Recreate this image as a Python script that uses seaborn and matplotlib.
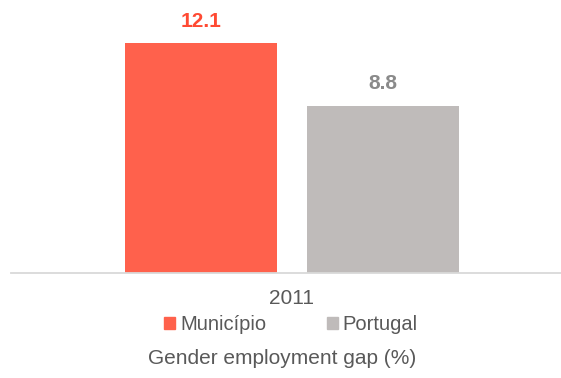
import seaborn as sns
import matplotlib.pyplot as plt
import pandas as pd

years = ['2011']
series = ['Município', 'Portugal']
values = [12.1, 8.8]
colors = ['#FF614C', '#BFBBBA']
label_colors = ['#FF4A33', '#8A8A8A']

df = pd.DataFrame({'year': years * len(series), 'series': series, 'value': values})

sns.set_style('white')
plt.rcParams['font.family'] = ['Liberation Sans', 'DejaVu Sans']

fig = plt.figure(figsize=(5.61, 3.78), dpi=100)
ax = fig.add_axes([11 / 561, 105 / 378, 550 / 561, 263 / 378])

sns.barplot(data=df, x='year', y='value', hue='series', palette=colors, saturation=1,
            width=0.8, gap=0.165, linewidth=0, ax=ax, legend=False)

for cont, c in zip(ax.containers, label_colors):
    ax.bar_label(cont, fmt='%.1f', padding=9, color=c, fontsize=15, fontweight='bold')

ax.set_ylim(0, 263 / 19.0)
ax.set_xlim(-0.6176, 0.591)
ax.set_yticks([])
ax.set_xticks([])
ax.set_xlabel('')
ax.set_ylabel('')
for s in ['top', 'right', 'left']:
    ax.spines[s].set_visible(False)
ax.spines['bottom'].set_color('#D9D9D9')
ax.spines['bottom'].set_linewidth(1.3)

txt = '#595959'
fig.text(292 / 561, 1 - 298 / 378, years[0], ha='center', va='center', fontsize=15, color=txt)

handles = [plt.Rectangle((0, 0), 1, 1, color=c) for c in colors]
fig.legend(handles, series, loc='center', bbox_to_anchor=(291 / 561, 1 - 325 / 378),
           ncol=2, frameon=False, fontsize=14.5, handlelength=0.55, handleheight=0.55,
           handletextpad=0.25, columnspacing=3.0, labelcolor=txt)

fig.text(282 / 561, 1 - 358 / 378, 'Gender employment gap (%)', ha='center', va='center',
         fontsize=15, color=txt)

fig.savefig('out.png', dpi=100)
